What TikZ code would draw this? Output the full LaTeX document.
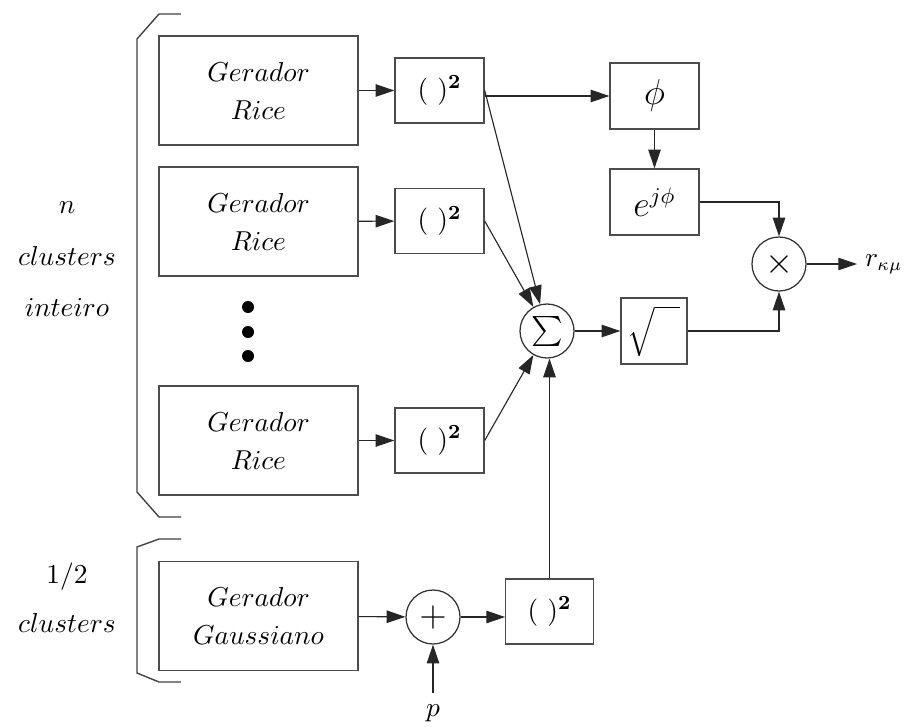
\documentclass[tikz,border=0pt]{standalone}
\usepackage{amsmath}
\usetikzlibrary{arrows.meta}
\begin{document}
\begin{tikzpicture}[x=0.4pt,y=-0.4pt,
  every node/.style={font=\fontsize{10.5}{15.2}\selectfont},
  blk/.style={draw=black!70, line width=0.55pt, inner sep=0pt, align=center, fill=white},
  gen/.style={blk, minimum width=79.6pt, minimum height=43.6pt},
  sq/.style={blk, minimum width=35.6pt, minimum height=26pt},
  opc/.style={circle, draw=black!80, line width=0.5pt, inner sep=0pt, minimum size=21.6pt},
  arr/.style={-{Triangle[length=7.5pt,width=5pt]}, line width=0.45pt, draw=black!85},
  brk/.style={draw=black!75, line width=0.55pt},
  lab/.style={anchor=base, inner sep=0pt, font=\fontsize{10.8}{13}\selectfont}
]
\useasboundingbox (0,0) rectangle (905,726);

% generators
\node[gen] (rice1) at (258.5,90.5) {$Gerador$\\$Rice$};
\node[gen] (rice2) at (258.5,221.5) {$Gerador$\\$Rice$};
\node[gen] (rice3) at (258.5,440.5) {$Gerador$\\$Rice$};
\node[gen] (gauss) at (258.5,616) {$Gerador$\\$Gaussiano$};

% squarers
\node[sq, font=\fontsize{11.3}{13}\selectfont] (sq1) at (439.5,90.5) {$(\ )^{\mathbf{2}}$};
\node[sq, font=\fontsize{11.3}{13}\selectfont] (sq2) at (439.5,221) {$(\ )^{\mathbf{2}}$};
\node[sq, font=\fontsize{11.3}{13}\selectfont] (sq3) at (439.5,440.5) {$(\ )^{\mathbf{2}}$};
\node[sq, minimum width=35pt, font=\fontsize{11.3}{13}\selectfont] (gsq) at (549.5,611.5) {$(\ )^{\mathbf{2}}$};

% phase path
\node[sq, minimum height=26.4pt, font=\fontsize{13.5}{15}\selectfont] (phi) at (654.5,96) {$\phi$};
\node[sq, minimum height=26.4pt, font=\fontsize{13.5}{15}\selectfont] (ejphi) at (654.5,202) {$e^{j\phi}$};

% operators
\node[opc, font=\fontsize{12.5}{14}\selectfont] (sigma) at (547,331) {$\sum$};
\node[blk, minimum width=26.4pt, minimum height=26.4pt] (sqrtbox) at (654,331) {$\sqrt{\vphantom{\big(}\hspace{10pt}}$};
\node[opc, font=\fontsize{13.5}{15}\selectfont] (mult) at (779,264) {$\times$};
\node[opc, font=\fontsize{14}{16}\selectfont] (plus) at (433,617) {$+$};

% output / input labels
\node[anchor=west, inner sep=3pt] (rout) at (857,264) {$r_{\kappa\mu}$};
\coordinate (ppin) at (433,693);
\node[inner sep=0pt] (plab) at (433,713) {$p$};

% connectors
\draw[arr] (rice1) -- (sq1);
\draw[arr] (rice2) -- (sq2);
\draw[arr] (rice3) -- (sq3);
\draw[arr] (sq1.east |- phi.west) -- (phi.west);
\draw[arr] (sq1.east) -- (sigma);
\draw[arr] (sq2.east) -- (sigma);
\draw[arr] (sq3.east) -- (sigma);
\draw[arr] (gsq.north) -- (gsq.north |- sigma.south);
\draw[arr] (sigma) -- (sqrtbox);
\draw[arr] (sqrtbox.east) -| (mult.south);
\draw[arr] (ejphi.east) -| (mult.north);
\draw[arr] (phi) -- (ejphi);
\draw[arr] (mult) -- (rout.west);
\draw[arr] (gauss) -- (plus);
\draw[arr] (plus) -- (plus -| gsq.west);
\draw[arr] (ppin) -- (plus);

% brackets
\draw[brk] (181,14) -- (159,14) -- (137,39) -- (137,492) -- (159,517) -- (181,517);
\draw[brk] (181,539) -- (159,539) -- (137,547) -- (137,673) -- (159,682) -- (181,682);

% dots
\fill (248,307) circle (6);
\fill (248,332) circle (6);
\fill (248,356) circle (6);

% left labels
\node[lab] (ln) at (67,213) {$n$};
\node[lab] (lc1) at (67,265) {$clusters$};
\node[lab] (li) at (67,316) {$inteiro$};
\node[lab] (lh) at (67,583) {$1/2$};
\node[lab] (lc2) at (67,632) {$clusters$};
\end{tikzpicture}
\end{document}
